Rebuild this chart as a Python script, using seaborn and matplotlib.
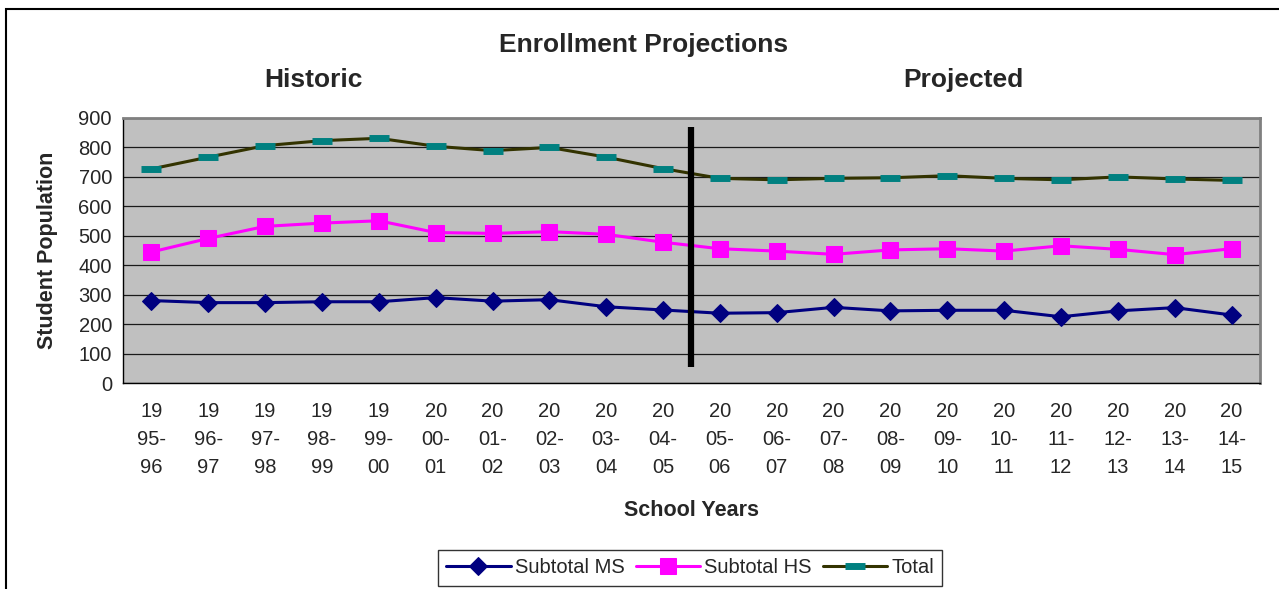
import numpy as np
import pandas as pd
import matplotlib
matplotlib.use("Agg")
import matplotlib.pyplot as plt
import matplotlib.patches as mpatches
import seaborn as sns

# datos
years = ["19\n95-\n96", "19\n96-\n97", "19\n97-\n98", "19\n98-\n99", "19\n99-\n00",
         "20\n00-\n01", "20\n01-\n02", "20\n02-\n03", "20\n03-\n04", "20\n04-\n05",
         "20\n05-\n06", "20\n06-\n07", "20\n07-\n08", "20\n08-\n09", "20\n09-\n10",
         "20\n10-\n11", "20\n11-\n12", "20\n12-\n13", "20\n13-\n14", "20\n14-\n15"]
subtotal_ms = [280, 273, 273, 276, 276, 290, 278, 283, 259, 248,
               237, 239, 257, 245, 247, 247, 225, 245, 256, 231]
subtotal_hs = [445, 491, 532, 543, 551, 511, 508, 514, 505, 478,
               456, 448, 437, 452, 456, 448, 466, 454, 436, 456]
total = [727, 767, 806, 823, 831, 804, 789, 800, 767, 728,
         695, 690, 695, 697, 704, 695, 690, 700, 693, 688]

df = pd.DataFrame({"pos": np.arange(len(years)), "ms": subtotal_ms,
                   "hs": subtotal_hs, "total": total})

sns.set_style("white")
plt.rcParams["font.family"] = ["Liberation Sans", "DejaVu Sans"]

fig = plt.figure(figsize=(12.79, 5.89), dpi=100)
ax = fig.add_axes([0.0962, 0.3497, 0.8889, 0.4500])
ax.set_facecolor("#C0C0C0")

# lineas
sns.lineplot(data=df, x="pos", y="ms", ax=ax, color="#000080", lw=2.2,
             marker="D", markersize=9, markeredgecolor="#000080",
             label="Subtotal MS")
sns.lineplot(data=df, x="pos", y="hs", ax=ax, color="#FF00FF", lw=2.2,
             marker="s", markersize=11, markeredgecolor="#FF00FF",
             label="Subtotal HS")
sns.lineplot(data=df, x="pos", y="total", ax=ax, color="#333300", lw=2.2,
             marker="_", markersize=14, markeredgewidth=5,
             markeredgecolor="#008080", markerfacecolor="#008080",
             label="Total")

# linea divisoria historico / proyectado
ax.vlines(9.5, 55, 870, color="black", lw=4.5, zorder=5)

ax.set_xlim(-0.5, len(years) - 0.5)
ax.set_ylim(0, 900)
ax.set_yticks(np.arange(0, 901, 100))
ax.yaxis.grid(True, color="#1a1a1a", lw=0.9)
ax.set_axisbelow(True)

ax.set_xticks(np.arange(len(years)))
ax.set_xticklabels(years, linespacing=1.6)
ax.set_xticks(np.arange(-0.5, len(years)), minor=True)
ax.tick_params(axis="x", which="major", length=0, pad=14, labelsize=14.5)
ax.tick_params(axis="x", which="minor", length=6, width=1, color="black",
               direction="out")
ax.tick_params(axis="y", length=5, width=1, color="black", direction="out",
               labelsize=14.5, pad=3)

for s in ["left", "bottom"]:
    ax.spines[s].set_color("black")
    ax.spines[s].set_linewidth(1)
for s in ["top", "right"]:
    ax.spines[s].set_color("#808080")
    ax.spines[s].set_linewidth(2)

ax.set_xlabel("School Years", fontsize=15.5, fontweight="bold")
ax.xaxis.set_label_coords(0.5, -0.44)
ax.set_ylabel("Student Population", fontsize=15.5, fontweight="bold")
ax.yaxis.set_label_coords(-0.057, 0.5)

fig.text(0.5035, 0.9236, "Enrollment Projections", ha="center", va="center",
         fontsize=19, fontweight="bold")
fig.text(0.245, 0.864, "Historic", ha="center", va="center",
         fontsize=19, fontweight="bold")
fig.text(0.753, 0.864, "Projected", ha="center", va="center",
         fontsize=19, fontweight="bold")

ax.get_legend().remove()
handles, labels = ax.get_legend_handles_labels()
fig.legend(handles, labels, loc="center", bbox_to_anchor=(0.5395, 0.0357),
           ncol=3, frameon=True, fancybox=False, edgecolor="black",
           fontsize=14.5, handlelength=3.2, columnspacing=0.55, handletextpad=0.2,
           borderpad=0.4, borderaxespad=0)

# marco exterior
fig.patches.append(mpatches.Rectangle((0.0047, -0.02), 1.2, 1.0047,
                                      transform=fig.transFigure, fill=False,
                                      edgecolor="black", lw=1.5))

fig.savefig("out.png", dpi=100)
